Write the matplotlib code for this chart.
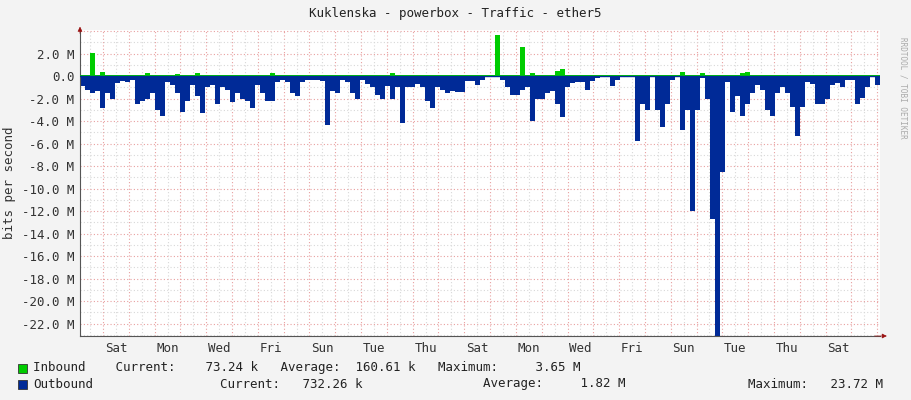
import matplotlib
matplotlib.use("Agg")
import matplotlib.pyplot as plt
import numpy as np

# Outbound (M bits/s), one value per ~4.65h bin, 160 bins over 31 days
outbound = [0.9,1.2,1.5,1.3,2.8,1.5,2.0,0.6,0.4,0.5,0.3,2.5,2.2,2.0,1.5,3.0,3.5,0.5,0.8,1.5,
            3.2,2.2,0.8,1.8,3.3,1.0,0.8,2.5,1.0,1.2,2.3,1.5,2.0,2.2,2.8,0.8,1.5,2.2,2.2,0.5,
            0.3,0.5,1.5,1.8,0.5,0.3,0.3,0.3,0.4,4.3,1.3,1.5,0.3,0.5,1.5,2.0,0.3,0.7,1.0,1.7,
            2.0,0.9,2.0,1.0,4.2,1.0,1.0,0.7,1.0,2.2,2.8,1.0,1.2,1.5,1.3,1.4,1.4,0.4,0.4,0.8,
            0.3,0.1,0.1,0.1,0.3,1.0,1.7,1.7,1.2,1.0,4.0,2.0,2.0,1.5,1.3,2.5,3.6,1.0,0.6,0.5,
            0.5,1.2,0.4,0.2,0.1,0.1,0.9,0.3,0.1,0.1,0.1,5.8,2.5,3.0,0.1,3.0,4.5,2.5,0.3,0.1,
            4.8,3.0,12.0,3.0,0.2,2.0,12.7,23.7,8.5,0.5,3.2,1.8,3.5,2.5,1.5,0.8,1.2,3.0,3.5,1.5,
            1.0,1.5,2.7,5.3,2.7,0.5,0.7,2.5,2.5,2.0,0.8,0.6,1.0,0.3,0.3,2.5,1.9,1.0,0.1,0.8]
inbound = [0.1]*160
spikes = {2:2.1,4:0.4,13:0.3,19:0.2,23:0.3,38:0.3,62:0.3,83:3.7,88:2.6,90:0.3,95:0.5,96:0.6,
          120:0.4,124:0.3,132:0.3,133:0.4}
for k, v in spikes.items():
    inbound[k] = v

day_labels = ["Sat","Mon","Wed","Fri","Sun","Tue","Thu","Sat","Mon","Wed","Fri","Sun","Tue","Thu","Sat"]
ytick_vals = list(range(2, -23, -2))

total_h = 744.0
bin_h = total_h / len(outbound)
t = np.arange(len(outbound)) * bin_h
first_midnight = 23 / 800 * total_h

fig = plt.figure(figsize=(9.11, 4.0), dpi=100, facecolor="#F3F3F3")
ax = fig.add_axes([80/911, 64/400, 800/911, 306/400])
ax.set_facecolor("white")
ax.set_xlim(0, total_h)
ax.set_ylim(-23.1, 4.1)

# grid
for h in np.arange(first_midnight - 12, total_h, 12):
    if h < 0: continue
    is_mid = abs(((h - first_midnight) / 24) - round((h - first_midnight) / 24)) < 1e-6
    ax.axvline(h, color="#E8A0A0" if is_mid else "#D8D8D8", lw=0.8, ls=(0, (1, 2)), zorder=0)
for y in range(-23, 5):
    ax.axhline(y, color="#E8A0A0" if y % 2 == 0 else "#D8D8D8", lw=0.8, ls=(0, (1, 2)), zorder=0)

ax.bar(t, [-v for v in outbound], width=bin_h, align="edge", color="#002A97", lw=0, zorder=2)
ax.bar(t, inbound, width=bin_h, align="edge", color="#00CC00", lw=0, zorder=3)
ax.axhline(0, color="#002A97", lw=1, zorder=4)

ax.set_yticks(ytick_vals)
ax.set_yticklabels([("%.1f M" % v) if v != 0 else "0.0" for v in ytick_vals])
ax.set_xticks([first_midnight + 12 + 48 * i for i in range(len(day_labels))])
ax.set_xticklabels(day_labels)
ax.tick_params(length=0, labelsize=9, colors="#333333", pad=4)
for lab in ax.get_xticklabels() + ax.get_yticklabels():
    lab.set_family("DejaVu Sans Mono")
for s in ["top", "right"]:
    ax.spines[s].set_visible(False)
ax.spines["left"].set_color("#555555")
ax.spines["bottom"].set_color("#555555")
ax.set_ylabel("bits per second", family="DejaVu Sans Mono", fontsize=9, color="#333333", labelpad=4)
ax.annotate("", xy=(0, 1.02), xycoords="axes fraction", xytext=(0, 0.98),
            arrowprops=dict(arrowstyle="-|>", color="#991111", lw=0.5, mutation_scale=7))
ax.annotate("", xy=(1.012, 0), xycoords="axes fraction", xytext=(0.99, 0),
            arrowprops=dict(arrowstyle="-|>", color="#991111", lw=0.5, mutation_scale=7))

mono = dict(family="DejaVu Sans Mono", fontsize=9, color="#222222")
fig.text(0.5, 1 - 13/400, "Kuklenska - powerbox - Traffic - ether5", ha="center", va="center", **mono)
fig.text(1 - 8/911, 0.78, "RRDTOOL / TOBI OETIKER", rotation=270, ha="center", va="center",
         family="DejaVu Sans Mono", fontsize=5.5, color="#AAAAAA")
fig.patches.append(plt.Rectangle((18/911, 1-373/400), 9/911, 9/400, transform=fig.transFigure,
                                 facecolor="#00CC00", edgecolor="#333333", lw=0.6))
fig.patches.append(plt.Rectangle((18/911, 1-389/400), 9/911, 9/400, transform=fig.transFigure,
                                 facecolor="#002A97", edgecolor="#333333", lw=0.6))
fig.text(33/911, 1-368/400, "Inbound    Current:    73.24 k   Average:  160.61 k   Maximum:     3.65 M",
         va="center", **mono)
fig.text(33/911, 1-384/400, "Outbound", va="center", **mono)
fig.text(220/911, 1-384/400, "Current:   732.26 k", va="center", **mono)
fig.text(483/911, 1-384/400, "Average:     1.82 M", va="center", **mono)
fig.text(748/911, 1-384/400, "Maximum:   23.72 M", va="center", **mono)

fig.savefig("out.png", dpi=100, facecolor=fig.get_facecolor())
